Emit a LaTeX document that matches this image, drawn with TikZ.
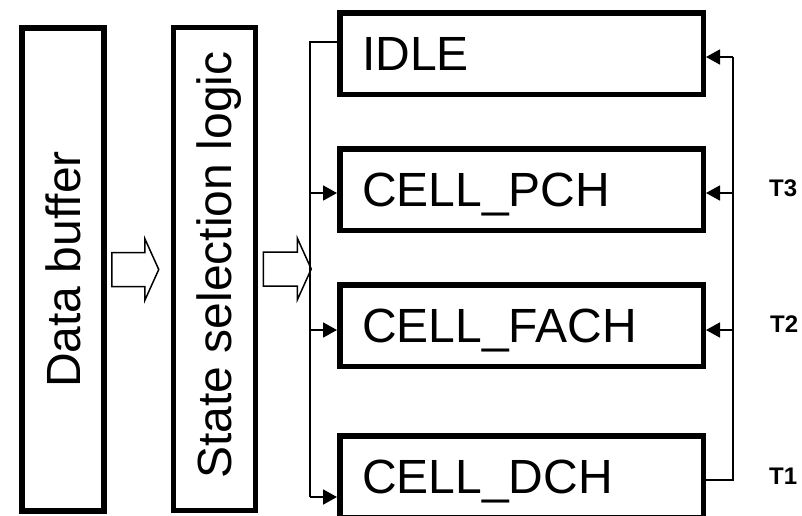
\documentclass[tikz,border=0pt]{standalone}
\usepackage{fontspec}
\setmainfont{Liberation Sans}
\usetikzlibrary{arrows.meta,calc}
\begin{document}
\begin{tikzpicture}[x=1pt,y=-1pt,
  bigbox/.style={draw=black,line width=5.5pt,inner sep=0pt},
  statebox/.style={bigbox,minimum width=363.5pt,minimum height=81.5pt},
  vbox/.style={bigbox,minimum width=82pt,minimum height=483pt},
  big/.style={font=\fontsize{48}{48}\selectfont,inner sep=0pt},
  tlbl/.style={font=\bfseries\fontsize{24}{24}\selectfont,inner sep=0pt,anchor=west},
  wire/.style={line width=1.8pt,black},
  tip/.style={-{Triangle[length=14pt,width=15pt]}},
  hollow/.style={draw=black,line width=1.5pt,fill=white,line join=miter}
]
\useasboundingbox (0,0) rectangle (802,515);
\clip (0,0) rectangle (802,515);
% left vertical boxes
\node[vbox] (buf) at (63,269.5) {};
\node[vbox] (sel) at (214.5,269) {};
\node[big,rotate=90,anchor=base] (buft) at ($(buf.center)+(17,0)$) {Data buffer};
\node[big,rotate=90,anchor=base] (selt) at ($(sel.center)+(17,-4)$) {State selection logic};
% state boxes
\node[statebox] (idle) at (521.5,53.5) {};
\node[statebox] (pch)  at (521.5,189.5) {};
\node[statebox] (fach) at (521.5,325.5) {};
\node[statebox] (dch)  at (521.5,476.5) {};
\node[big,anchor=base west] (idlet) at ($(idle.west)+(25,17)$) {IDLE};
\node[big,anchor=base west] (pcht)  at ($(pch.west)+(25,17)$) {CELL\_PCH};
\node[big,anchor=base west] (facht) at ($(fach.west)+(25,17)$) {CELL\_FACH};
\node[big,anchor=base west] (dcht)  at ($(dch.west)+(25,17)$) {CELL\_DCH};
% hollow arrows
\draw[hollow] ($(buf.east)+(5,-17)$) coordinate (a1) -- ++(33,0) -- ++(0,-14) -- ++(14,31) -- ++(-14,31) -- ++(0,-14) -- ++(-33,0) -- cycle;
\draw[hollow] ($(sel.east)+(5,-17)$) coordinate (a2) -- ++(34,0) -- ++(0,-14) -- ++(14,31) -- ++(-14,31) -- ++(0,-14) -- ++(-34,0) -- cycle;
% left bus
\coordinate (l1) at (310,42);
\coordinate (l2) at (310,193);
\coordinate (l3) at (310,330);
\coordinate (l4) at (310,497);
\draw[wire] (l1 -| idle.west) -- (l1) -- (l4);
\draw[wire,tip] (l2) -- (l2 -| pch.west);
\draw[wire,tip] (l3) -- (l3 -| fach.west);
\draw[wire,tip] (l4) -- (l4 -| dch.west);
% right bus
\coordinate (r1) at (733,57);
\coordinate (r2) at (733,193);
\coordinate (r3) at (733,330);
\coordinate (r4) at (733,480);
\draw[wire] (r4 -| dch.east) -- (r4) -- (r1);
\draw[wire,tip] (r1) -- (r1 -| idle.east);
\draw[wire,tip] (r2) -- (r2 -| pch.east);
\draw[wire,tip] (r3) -- (r3 -| fach.east);
% labels
\node[tlbl] (t3) at (769,188.5) {T3};
\node[tlbl] (t2) at (770,324) {T2};
\node[tlbl] (t1) at (769,476) {T1};
\end{tikzpicture}
\end{document}
